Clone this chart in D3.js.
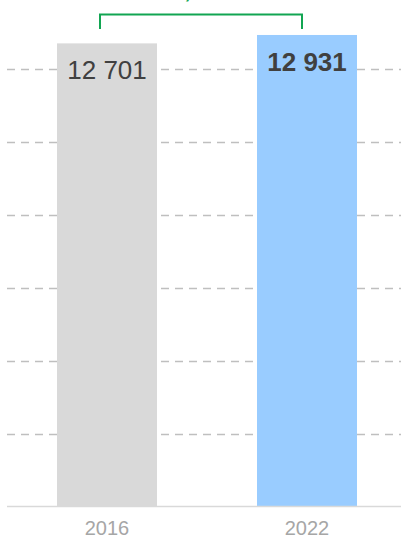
<!DOCTYPE html>
<html>
<head>
<meta charset="utf-8">
<script src="https://cdn.jsdelivr.net/npm/d3@7"></script>
<style>
  html, body { margin: 0; padding: 0; background: #fff; }
  svg { display: block; }
  text { font-family: "Liberation Sans", Arial, sans-serif; }
</style>
</head>
<body>
<svg id="chart" width="401" height="539"></svg>
<script>
// Data
const years = ["2016", "2022"];
const values = [12701, 12931];
const gridTicks = [2000, 4000, 6000, 8000, 10000, 12000];
const changeLabel = "+1,8 %";

const barColors = ["#d9d9d9", "#99ccff"];
const labelWeights = ["normal", "bold"];

const svg = d3.select("#chart");

const x = d3.scaleBand()
  .domain(years)
  .range([7, 407])
  .paddingInner(0.5)
  .paddingOuter(0.25);

const y = d3.scaleLinear()
  .domain([0, 14000])
  .range([506.5, -4]);

// Dashed horizontal gridlines
svg.append("g")
  .selectAll("line")
  .data(gridTicks)
  .join("line")
  .attr("x1", 7)
  .attr("x2", 401)
  .attr("y1", d => Math.round(y(d)) + 0.5)
  .attr("y2", d => Math.round(y(d)) + 0.5)
  .attr("stroke", "#bfbfbf")
  .attr("stroke-width", 1.5)
  .attr("stroke-dasharray", "8,6");

// Bars
svg.append("g")
  .selectAll("rect")
  .data(values)
  .join("rect")
  .attr("x", (d, i) => x(years[i]))
  .attr("y", d => y(d))
  .attr("width", x.bandwidth())
  .attr("height", d => y(0) - y(d))
  .attr("fill", (d, i) => barColors[i]);

// Baseline
svg.append("line")
  .attr("x1", 7)
  .attr("x2", 401)
  .attr("y1", y(0))
  .attr("y2", y(0))
  .attr("stroke", "#d9d9d9")
  .attr("stroke-width", 1.5);

// Value labels inside the top of each bar
const fmt = v => d3.format(",")(v).replace(/,/g, " ");
svg.append("g")
  .selectAll("text")
  .data(values)
  .join("text")
  .attr("x", (d, i) => x(years[i]) + x.bandwidth() / 2)
  .attr("y", d => y(d) + 36)
  .attr("text-anchor", "middle")
  .attr("font-size", 26)
  .attr("font-weight", (d, i) => labelWeights[i])
  .attr("fill", "#404040")
  .text(d => fmt(d));

// Category labels under the axis
svg.append("g")
  .selectAll("text")
  .data(years)
  .join("text")
  .attr("x", d => x(d) + x.bandwidth() / 2)
  .attr("y", 535)
  .attr("text-anchor", "middle")
  .attr("font-size", 20)
  .attr("fill", "#a6a6a6")
  .text(d => d);

// Comparison bracket between the two bars
const bx1 = x(years[0]) + x.bandwidth() / 2 - 7;
const bx2 = x(years[1]) + x.bandwidth() / 2 - 5;
const bTop = 14.5;
const bLeg = 29;
const green = "#12a552";
svg.append("path")
  .attr("d", `M${bx1},${bLeg} V${bTop} H${bx2} V${bLeg}`)
  .attr("fill", "none")
  .attr("stroke", green)
  .attr("stroke-width", 2);

// Change label above the bracket (sits mostly above the top edge)
svg.append("text")
  .attr("x", (bx1 + bx2) / 2 - 7)
  .attr("y", -2)
  .attr("text-anchor", "middle")
  .attr("font-size", 22)
  .attr("font-weight", "bold")
  .attr("fill", green)
  .text(changeLabel);
</script>
</body>
</html>
